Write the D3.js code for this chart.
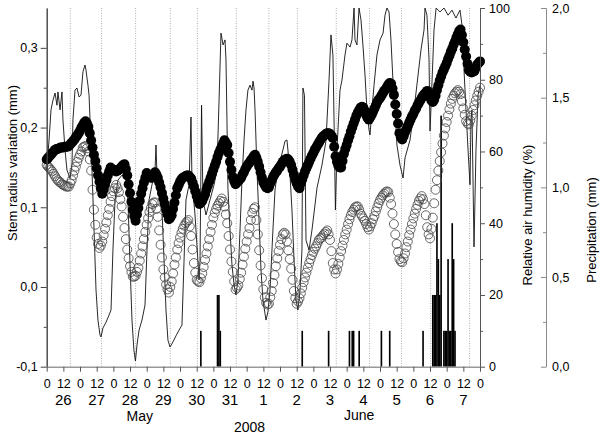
<!DOCTYPE html>
<html>
<head>
<meta charset="utf-8">
<script src="https://cdn.jsdelivr.net/npm/d3@7"></script>
<style>
body { margin: 0; background: #fff; }
text { font-family: "Liberation Sans", Arial, Helvetica, sans-serif; fill: #000; }
</style>
</head>
<body>
<script>
/* stem radius, humidity and rain, 26 May - 7 June 2008 */

// hourly readings, hours counted from 26 May 0:00
var stemHours = d3.range(0, 313, 1);

// filled circles (mm), one row per day
var stemFilled = [
  0.160,0.162,0.164,0.166,0.168,0.170,0.172,0.173,0.173,0.174,0.175,0.175,0.175,0.176,0.176,0.176,0.177,0.179,0.181,0.183,0.185,0.188,0.190,0.193,
  0.196,0.200,0.203,0.206,0.208,0.205,0.201,0.193,0.184,0.175,0.166,0.158,0.149,0.140,0.132,0.124,0.117,0.122,0.128,0.134,0.140,0.145,0.150,0.148,
  0.147,0.146,0.145,0.146,0.147,0.149,0.151,0.153,0.154,0.148,0.140,0.129,0.118,0.107,0.097,0.089,0.083,0.091,0.099,0.108,0.117,0.124,0.131,0.137,
  0.143,0.140,0.138,0.137,0.137,0.141,0.144,0.141,0.137,0.131,0.125,0.118,0.111,0.104,0.097,0.091,0.085,0.087,0.090,0.098,0.106,0.115,0.124,0.128,
  0.132,0.135,0.137,0.138,0.139,0.140,0.140,0.138,0.136,0.131,0.126,0.120,0.114,0.109,0.104,0.106,0.108,0.112,0.116,0.122,0.127,0.132,0.137,0.142,
  0.147,0.152,0.157,0.163,0.168,0.172,0.176,0.180,0.184,0.181,0.178,0.168,0.157,0.147,0.138,0.133,0.129,0.131,0.133,0.135,0.137,0.141,0.144,0.148,
  0.151,0.154,0.156,0.159,0.161,0.164,0.166,0.162,0.157,0.151,0.144,0.137,0.131,0.128,0.125,0.124,0.125,0.130,0.134,0.138,0.141,0.144,0.146,0.149,
  0.151,0.154,0.157,0.159,0.160,0.161,0.160,0.157,0.153,0.147,0.141,0.135,0.130,0.126,0.124,0.130,0.135,0.140,0.145,0.149,0.153,0.157,0.161,0.165,
  0.168,0.172,0.175,0.178,0.181,0.184,0.187,0.189,0.190,0.192,0.193,0.193,0.192,0.190,0.187,0.176,0.164,0.157,0.152,0.150,0.150,0.158,0.167,0.173,
  0.178,0.184,0.189,0.195,0.200,0.205,0.210,0.215,0.219,0.222,0.225,0.226,0.225,0.221,0.216,0.212,0.210,0.213,0.216,0.220,0.224,0.228,0.232,0.235,
  0.237,0.240,0.243,0.246,0.248,0.251,0.254,0.256,0.255,0.249,0.241,0.229,0.217,0.205,0.193,0.188,0.185,0.189,0.194,0.198,0.202,0.206,0.210,0.214,
  0.217,0.221,0.224,0.228,0.231,0.234,0.237,0.240,0.242,0.244,0.246,0.243,0.238,0.234,0.232,0.235,0.240,0.247,0.253,0.259,0.264,0.269,0.273,0.277,
  0.281,0.286,0.290,0.295,0.299,0.304,0.308,0.313,0.317,0.321,0.323,0.316,0.307,0.298,0.289,0.280,0.272,0.270,0.269,0.270,0.271,0.275,0.279,0.281,
  0.283
];

// open circles (mm), one row per day
var stemOpen = [
  0.153,0.151,0.149,0.147,0.145,0.142,0.139,0.136,0.134,0.132,0.131,0.129,0.128,0.127,0.126,0.126,0.126,0.130,0.134,0.140,0.146,0.151,0.157,0.162,
  0.166,0.170,0.175,0.176,0.177,0.174,0.170,0.160,0.146,0.122,0.097,0.078,0.062,0.054,0.049,0.052,0.057,0.065,0.073,0.081,0.090,0.098,0.107,0.114,
  0.120,0.124,0.128,0.124,0.119,0.110,0.101,0.088,0.074,0.060,0.047,0.036,0.026,0.019,0.013,0.013,0.014,0.019,0.024,0.033,0.042,0.051,0.060,0.069,
  0.078,0.086,0.094,0.099,0.104,0.106,0.106,0.098,0.088,0.071,0.053,0.037,0.022,0.012,0.003,-0.003,-0.007,0.000,0.007,0.017,0.028,0.037,0.047,0.055,
  0.062,0.068,0.073,0.077,0.080,0.082,0.084,0.076,0.064,0.047,0.030,0.018,0.009,0.007,0.006,0.011,0.017,0.025,0.034,0.042,0.051,0.060,0.069,0.078,
  0.087,0.093,0.098,0.102,0.105,0.108,0.111,0.107,0.101,0.091,0.080,0.064,0.047,0.032,0.019,0.007,-0.003,-0.001,0.002,0.010,0.018,0.028,0.038,0.048,
  0.057,0.066,0.074,0.084,0.093,0.098,0.100,0.084,0.066,0.046,0.027,0.011,-0.003,-0.013,-0.020,-0.022,-0.021,-0.013,-0.005,0.005,0.015,0.026,0.036,0.045,
  0.053,0.060,0.066,0.068,0.066,0.057,0.046,0.035,0.023,0.009,-0.005,-0.014,-0.021,-0.018,-0.014,-0.008,-0.001,0.006,0.012,0.018,0.024,0.030,0.035,0.040,
  0.044,0.048,0.051,0.055,0.059,0.061,0.062,0.065,0.067,0.069,0.071,0.066,0.059,0.045,0.030,0.022,0.017,0.022,0.029,0.037,0.045,0.052,0.059,0.066,
  0.072,0.079,0.085,0.090,0.094,0.097,0.100,0.101,0.101,0.097,0.092,0.089,0.086,0.083,0.079,0.075,0.072,0.076,0.080,0.085,0.089,0.095,0.100,0.105,
  0.109,0.112,0.115,0.117,0.119,0.120,0.119,0.112,0.104,0.092,0.079,0.066,0.054,0.044,0.035,0.032,0.031,0.036,0.042,0.050,0.057,0.065,0.072,0.079,
  0.086,0.092,0.098,0.103,0.108,0.111,0.114,0.110,0.104,0.090,0.075,0.066,0.061,0.073,0.087,0.105,0.122,0.134,0.146,0.158,0.169,0.180,0.190,0.199,
  0.207,0.215,0.223,0.230,0.236,0.240,0.243,0.245,0.247,0.245,0.242,0.233,0.224,0.216,0.208,0.205,0.204,0.209,0.215,0.222,0.228,0.234,0.240,0.245,
  0.250
];

// relative air humidity (%), read at the line's turning points
var humHours = [
  0,1.7,3.1,4.5,6.0,7.4,8.1,9.6,11.0,11.7,13.2,14.6,16.8,18.2,18.9,20.4,21.8,
  23.3,24.7,26.1,27.6,28.3,29.0,29.7,30.5,31.2,32.6,34.1,35.5,36.9,38.4,39.1,
  40.5,42.7,44.9,46.3,47.7,49.2,51.3,54.2,57.1,58.5,59.9,61.4,62.8,63.9,65.0,
  66.5,68.6,70.8,72.2,73.7,75.8,78.0,78.7,79.4,81.6,83.0,84.5,85.9,87.3,88.8,
  90.9,93.1,95.3,97.4,98.9,100.3,102.5,103.9,104.6,106.8,108.2,109.7,110.4,
  111.5,112.5,114.7,117.6,120.5,122.6,124.1,125.5,127.0,128.4,129.1,129.8,
  130.5,132.0,133.4,134.9,136.3,137.7,139.2,140.6,142.1,143.5,144.9,146.4,
  147.8,148.6,149.3,150.0,151.4,152.9,154.3,155.7,157.9,159.3,160.8,162.9,
  164.4,165.8,168.0,170.1,171.6,173.0,173.7,175.2,176.6,178.1,179.5,180.9,
  182.4,183.8,184.5,185.6,186.7,188.9,191.0,193.2,194.6,198.2,201.1,203.3,
  204.7,206.1,206.9,207.9,209.0,211.2,212.6,214.8,216.2,218.4,219.8,221.3,
  222.0,223.4,224.9,226.3,227.7,229.2,230.6,232.1,232.8,234.2,235.7,237.8,
  240.0,242.2,243.6,245.0,246.5,247.9,249.3,250.8,252.2,254.4,256.6,258.0,
  261.6,264.5,267.4,269.5,271.7,272.4,273.8,275.3,276.0,277.5,278.9,280.4,
  283.2,286.1,289.0,291.8,294.7,297.6,299.0,300.5,301.9,303.4,304.8,305.5,
  306.2,307.7,309.1,310.6,312.0
];
var humValues = [
  54.8,63.2,71.6,74.3,76.3,72.9,76.6,71.6,76.6,68.8,60.4,54.8,52.6,56.2,68.8,77.1,77.7,
  75.2,75.7,82.2,84.1,82.7,80.5,78.5,75.7,68.8,54.8,38.1,21.4,13.0,8.8,8.3,
  10.8,12.4,14.4,15.8,32.5,46.5,52.0,53.4,52.6,46.5,29.7,13.0,4.6,1.6,6.0,
  10.2,13.0,17.2,32.5,46.5,50.7,54.8,61.8,53.4,49.3,43.7,29.7,15.8,7.4,5.5,
  6.9,8.6,10.2,11.6,29.7,46.5,50.7,69.6,52.0,42.3,33.9,24.2,29.7,
  72.9,46.5,42.3,46.5,50.7,54.8,74.3,93.0,89.7,91.1,85.5,68.8,
  49.8,38.1,28.4,22.8,20.0,24.2,38.1,52.0,63.2,71.6,77.1,78.5,
  77.1,79.6,77.7,71.6,54.8,40.9,27.0,18.6,13.0,15.3,21.4,38.1,
  49.3,53.4,57.3,60.4,62.9,63.2,60.4,53.4,43.7,29.7,18.6,15.8,
  21.4,32.5,77.7,75.7,35.3,32.5,38.1,45.1,49.8,56.2,62.9,79.9,
  92.5,86.9,68.8,43.7,60.4,77.1,79.9,86.9,90.2,89.1,91.1,100,
  91.1,89.7,100,96.7,89.7,81.3,71.6,66.0,64.6,71.6,78.5,86.9,
  91.1,93.0,98.0,100,98.9,91.1,79.9,71.6,61.8,56.2,52.6,58.2,
  63.2,71.6,81.3,88.3,93.9,100,98.0,85.5,65.7,79.9,93.9,100,
  98.9,100,98.0,99.4,97.2,99.4,95.3,82.7,71.6,60.4,50.7,68.8,
  71.6,33.4,60.4,75.7,78.5
];

// precipitation (mm per hour)
var rainHours  = [111,123,124,125,184,203,218,220,221,225,241,247,271,
                  278,279,280,281,282,283,284,286,287,288,289,290,291,292,293,294];
var rainValues = [0.2,0.4,0.4,0.2,0.2,0.2,0.2,0.2,0.2,0.2,0.2,0.2,0.2,
                  0.4,0.4,0.4,0.8,0.6,0.4,1.4,0.2,0.2,0.2,0.6,0.2,0.2,0.8,0.6,0.2];

// dotted reference lines
var markHours = [17,39.5,64,89,108.5,136.5,160,180.5,208.5,232.5,255.5,276.5,304.5];

var dayLabels = ["26","27","28","29","30","31","1","2","3","4","5","6","7"];
var stemTicks = [-0.1,0,0.1,0.2,0.3];
var stemMinor = [-0.05,0.05,0.15,0.25];
var humTicks = [0,20,40,60,80,100];
var humMinor = [10,30,50,70,90];
var rainTicks = [0,0.5,1,1.5,2];
var rainMinor = [0.25,0.75,1.25,1.75];

var W = 601, H = 435;
var padL = 46.7, padR = 480, padT = 8, padB = 366.7;

var svg = d3.select("body").append("svg")
    .attr("width", W)
    .attr("height", H);

var x = d3.scaleLinear().domain([0, 312]).range([padL, padR]);
var yStem = d3.scaleLinear().domain([-0.1, 0.35]).range([padB, padT]);
var yHum = d3.scaleLinear().domain([0, 100]).range([padB, padT]);
var yRain = d3.scaleLinear().domain([0, 2]).range([padB, padT]);

var comma = function(d){ return d.toFixed(1).replace(".", ","); };

// dotted lines
svg.append("g").selectAll("line")
    .data(markHours)
    .enter()
    .append("line")
    .attr("x1", function(d){ return x(d); })
    .attr("x2", function(d){ return x(d); })
    .attr("y1", padT)
    .attr("y2", padB)
    .attr("stroke", "#9a9a9a")
    .attr("stroke-width", 0.8)
    .attr("stroke-dasharray", "1,1.5");

// rain bars
var barW = x(1) - x(0) + 0.25;
svg.append("g").selectAll("rect")
    .data(rainHours)
    .enter()
    .append("rect")
    .attr("x", function(d){ return x(d) - barW / 2; })
    .attr("width", barW)
    .attr("y", function(d, i){ return yRain(rainValues[i]); })
    .attr("height", function(d, i){ return padB - yRain(rainValues[i]); })
    .attr("fill", "#000");

// humidity line
var humLine = d3.line()
    .x(function(d, i){ return x(humHours[i]); })
    .y(function(d){ return yHum(d); });
svg.append("path")
    .datum(humValues)
    .attr("d", humLine)
    .attr("fill", "none")
    .attr("stroke", "#111")
    .attr("stroke-width", 0.9)
    .attr("stroke-linejoin", "round");

// open circles
svg.append("g").selectAll("circle")
    .data(stemOpen)
    .enter()
    .append("circle")
    .attr("cx", function(d, i){ return x(stemHours[i]); })
    .attr("cy", function(d){ return yStem(d); })
    .attr("r", 4.5)
    .attr("fill", "none")
    .attr("stroke", "#444")
    .attr("stroke-width", 0.8);

// filled circles
svg.append("g").selectAll("circle")
    .data(stemFilled)
    .enter()
    .append("circle")
    .attr("cx", function(d, i){ return x(stemHours[i]); })
    .attr("cy", function(d){ return yStem(d); })
    .attr("r", 5)
    .attr("fill", "#000");

// left axis
var gL = svg.append("g").attr("transform", "translate(" + padL + ",0)");
gL.call(d3.axisLeft(yStem).tickValues(stemTicks).tickSize(6).tickSizeOuter(0).tickFormat(comma));
gL.append("g").call(d3.axisLeft(yStem).tickValues(stemMinor).tickSize(3).tickSizeOuter(0).tickFormat(""));
gL.selectAll("path, line").attr("stroke", "#444");
gL.selectAll("text").attr("font-size", 12.5).style("font-family", null);

// humidity axis
var gH = svg.append("g").attr("transform", "translate(" + padR + ",0)");
gH.call(d3.axisRight(yHum).tickValues(humTicks).tickSize(5).tickPadding(4).tickSizeOuter(0));
gH.append("g").call(d3.axisRight(yHum).tickValues(humMinor).tickSize(3).tickSizeOuter(0).tickFormat(""));
gH.selectAll("path, line").attr("stroke", "#555");
gH.selectAll("text").attr("font-size", 12.5).style("font-family", null);

// precipitation axis
var gP = svg.append("g").attr("transform", "translate(546,0)");
gP.call(d3.axisRight(yRain).tickValues(rainTicks).tickSize(-5).tickPadding(6).tickSizeOuter(0).tickFormat(comma));
gP.append("g").call(d3.axisRight(yRain).tickValues(rainMinor).tickSize(-3).tickSizeOuter(0).tickFormat(""));
gP.selectAll("path, line").attr("stroke", "#8a8a8a");
gP.selectAll("text").attr("font-size", 12.5).style("font-family", null);

// time axis
var gX = svg.append("g").attr("transform", "translate(0," + padB + ")");
gX.call(d3.axisBottom(x).tickValues(d3.range(0, 313, 12)).tickSize(5).tickPadding(7).tickSizeOuter(0)
    .tickFormat(function(h){ return h % 24 === 0 ? "0" : "12"; }));
gX.select(".domain").attr("stroke", "#999").attr("stroke-width", 1.6);
gX.selectAll("line").attr("stroke", "#555");
gX.selectAll("text").attr("font-size", 12.5).style("font-family", null);

svg.append("g").selectAll("text")
    .data(dayLabels)
    .enter()
    .append("text")
    .attr("x", function(d, i){ return x(i * 24 + 12); })
    .attr("y", 404.5)
    .attr("text-anchor", "middle")
    .attr("font-size", 15)
    .text(function(d){ return d; });

svg.append("text").attr("x", x(67)).attr("y", 421).attr("text-anchor", "middle")
    .attr("font-size", 14).text("May");
svg.append("text").attr("x", x(225)).attr("y", 420).attr("text-anchor", "middle")
    .attr("font-size", 14).text("June");
svg.append("text").attr("x", x(146)).attr("y", 432).attr("text-anchor", "middle")
    .attr("font-size", 14).text("2008");

// axis titles
svg.append("text")
    .attr("transform", "translate(17,163) rotate(-90)")
    .attr("text-anchor", "middle")
    .attr("font-size", 13)
    .text("Stem radius variation (mm)");
svg.append("text")
    .attr("transform", "translate(532,215) rotate(-90)")
    .attr("text-anchor", "middle")
    .attr("font-size", 13)
    .text("Relative air humidity (%)");
svg.append("text")
    .attr("transform", "translate(596,230) rotate(-90)")
    .attr("text-anchor", "middle")
    .attr("font-size", 13)
    .text("Precipitation (mm)");
</script>
</body>
</html>
